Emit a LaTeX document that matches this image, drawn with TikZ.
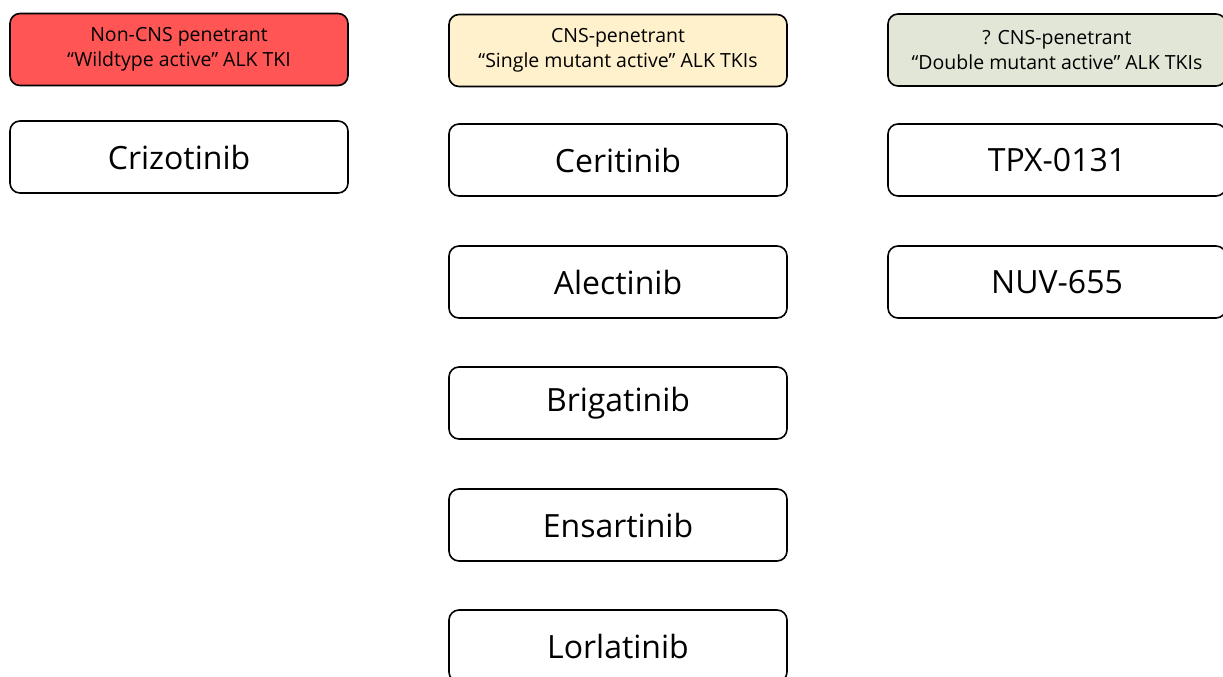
\documentclass[tikz,border=0pt]{standalone}
\usepackage{fontspec}
\setmainfont{Open Sans}
\begin{document}
\begin{tikzpicture}[x=1pt,y=-1pt,
  box/.style={draw=black,line width=1.6pt,rounded corners=10pt,minimum width=338pt,minimum height=72pt,inner sep=0pt,align=center},
  head/.style={box,font=\fontsize{19.5}{25}\selectfont},
  drug/.style={box,fill=white,font=\fontsize{32}{36}\selectfont}]
\definecolor{hred}{HTML}{FF5555}
\definecolor{hyel}{HTML}{FFF1CC}
\definecolor{hgrn}{HTML}{E1E6D7}
\useasboundingbox (0,0) rectangle (1223,677);
\clip (0,0) rectangle (1223,677);
\fill[white] (0,0) rectangle (1223,677);
\node[head,fill=hred] (h1) at (179,49.5) {Non-CNS penetrant\\“Wildtype active” ALK TKI};
\node[head,fill=hyel] (h2) at (618,50.5) {CNS-penetrant\\“Single mutant active” ALK TKIs};
\node[head,fill=hgrn] (h3) at (1057,50) {? CNS-penetrant\\“Double mutant active” ALK TKIs};
\node[drug] (d1) at (179,157) {Crizotinib};
\node[drug] (d2) at (618,160) {Ceritinib};
\node[drug] (d3) at (618,282) {Alectinib};
\node[drug] (d4) at (618,403) {Brigatinib};
\node[drug] (d5) at (618,525) {Ensartinib};
\node[drug] (d6) at (618,646) {Lorlatinib};
\node[drug] (d7) at (1057,160) {TPX-0131};
\node[drug] (d8) at (1057,282) {NUV-655};
\end{tikzpicture}
\end{document}
